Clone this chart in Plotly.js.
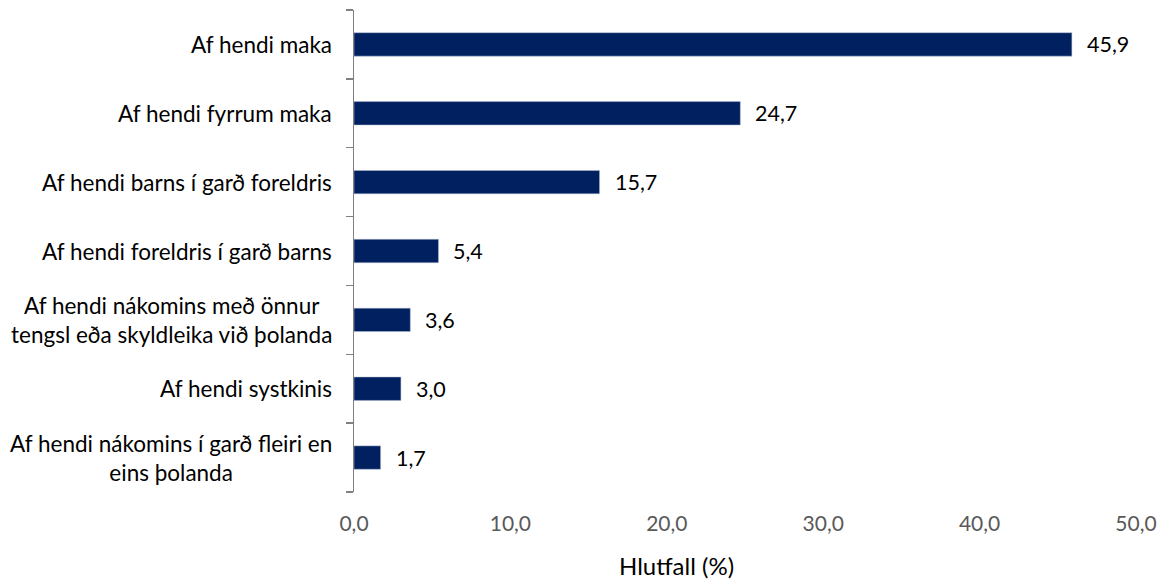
<!DOCTYPE html>
<html><head><meta charset="utf-8">
<script src="https://cdn.plot.ly/plotly-3.0.1.min.js"></script>
<style>body{margin:0;background:#fff}#c{width:1167px;height:583px}</style>
</head><body><div id="c"></div>
<script>
const categories = [
  "Af hendi maka",
  "Af hendi fyrrum maka",
  "Af hendi barns í garð foreldris",
  "Af hendi foreldris í garð barns",
  "Af hendi nákomins með önnur<br>tengsl eða skyldleika við þolanda",
  "Af hendi systkinis",
  "Af hendi nákomins í garð fleiri en<br>eins þolanda"
];
const values = [45.9, 24.7, 15.7, 5.4, 3.6, 3.0, 1.7];
const xTicks = [0, 10, 20, 30, 40, 50];
const xTitle = "Hlutfall (%)";

const font = "Lato, 'Open Sans', sans-serif";
const pos = categories.map((c, i) => i);
const bounds = [-0.5].concat(pos.map(p => p + 0.5));
const trace = {
  type: "bar", orientation: "h",
  x: values, y: pos,
  marker: {color: "#002060", line: {color: "#b4bfd6", width: 0.5}},
  hoverinfo: "skip"
};
const catAnn = categories.map((c, i) => ({
  xref: "paper", yref: "y", x: 0, y: pos[i], xanchor: "right", xshift: -20,
  text: c, showarrow: false, align: "center",
  font: {family: font, size: 22.5, color: "#000"}
}));
const valAnn = values.map((v, i) => ({
  xref: "x", yref: "y", x: v, y: pos[i], xanchor: "left", xshift: 13,
  text: v.toFixed(1).replace(".", ","), showarrow: false,
  font: {family: font, size: 21.5, color: "#000"}
}));
const titleAnn = {
  xref: "paper", yref: "paper", x: 0.412, y: 0, xanchor: "center", yanchor: "middle",
  yshift: -73, text: xTitle, showarrow: false,
  font: {family: font, size: 24, color: "#000"}
};
const layout = {
  width: 1167, height: 583,
  margin: {l: 354, r: 31, t: 10, b: 91},
  separators: ",.",
  showlegend: false, bargap: 0.66,
  plot_bgcolor: "#fff", paper_bgcolor: "#fff",
  font: {family: font, size: 21},
  xaxis: {
    range: [0, 50], tickvals: xTicks, tickformat: ".1f",
    showgrid: false, zeroline: false, showline: false,
    ticks: "outside", ticklen: 13, tickcolor: "rgba(0,0,0,0)",
    tickfont: {family: font, size: 21, color: "#595959"}
  },
  yaxis: {
    range: [6.5, -0.5], tickvals: bounds, showticklabels: false,
    ticks: "outside", ticklen: 7, tickcolor: "#808080", tickwidth: 1.5,
    showline: true, linecolor: "#808080", linewidth: 1.5, showgrid: false, zeroline: false
  },
  annotations: catAnn.concat(valAnn, [titleAnn])
};
Plotly.newPlot("c", [trace], layout, {displayModeBar: false, staticPlot: true});
</script></body></html>
